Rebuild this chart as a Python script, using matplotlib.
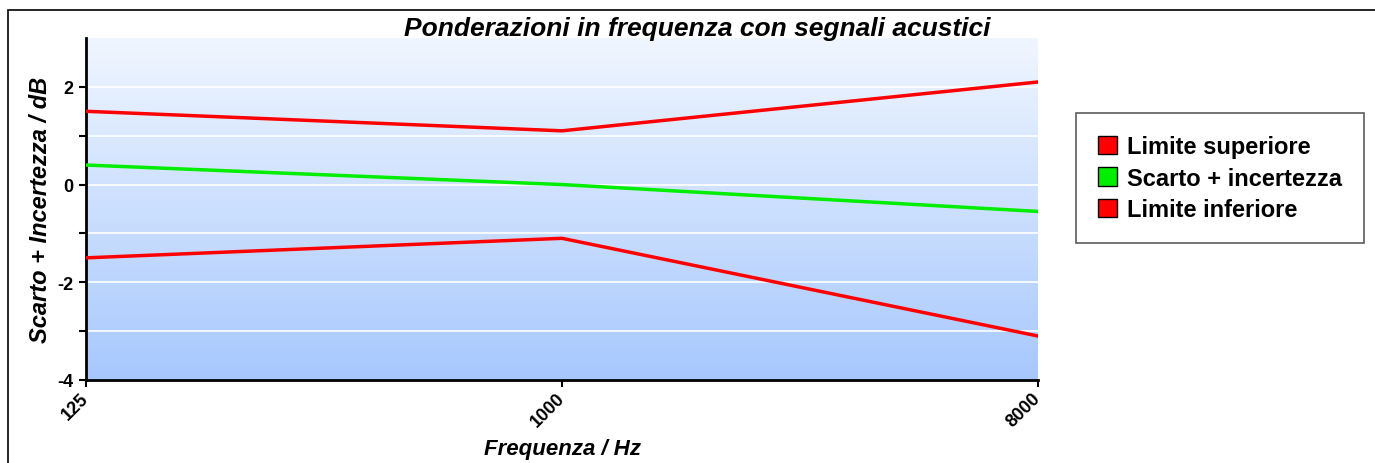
import numpy as np
import matplotlib
matplotlib.use('Agg')
import matplotlib.pyplot as plt
from matplotlib.patches import Rectangle
from matplotlib.colors import LinearSegmentedColormap

plt.rcParams['font.family'] = ['Liberation Sans', 'DejaVu Sans']
plt.rcParams['axes.unicode_minus'] = False

# frequency bands and the three curves (dB)
frequenze = ['125', '1000', '8000']
limite_superiore = [1.5, 1.1, 2.1]
scarto_incertezza = [0.4, 0.0, -0.55]
limite_inferiore = [-1.5, -1.1, -3.1]

W, H = 1375, 464
fig = plt.figure(figsize=(W / 100, H / 100), dpi=100)
ax = fig.add_axes([86 / W, 1 - 381 / H, (1038 - 86) / W, (381 - 39) / H])

x = np.arange(len(frequenze))
ax.set_xlim(0, len(frequenze) - 1)
ax.set_ylim(-4, 3)

# vertical gradient background
cmap = LinearSegmentedColormap.from_list('bg', ['#a7c8fd', '#f0f6ff'])
grad = np.linspace(0, 1, 256).reshape(-1, 1)
ax.imshow(grad, cmap=cmap, aspect='auto', origin='lower',
          extent=[0, len(frequenze) - 1, -4, 3], zorder=0)

for yv in range(-3, 3):
    ax.axhline(yv, color='white', lw=1.2, zorder=1)

ax.plot(x, limite_superiore, color='#ff0000', lw=2.5, zorder=3, label='Limite superiore')
ax.plot(x, scarto_incertezza, color='#00ee00', lw=2.5, zorder=3, label='Scarto + incertezza')
ax.plot(x, limite_inferiore, color='#ff0000', lw=2.5, zorder=3, label='Limite inferiore')

ax.set_xticks(x)
ax.set_xticklabels(frequenze, rotation=45, ha='right', va='center', rotation_mode='anchor',
                   fontsize=13, fontweight='bold')
ax.set_yticks([-4, -2, 0, 2])
ax.set_yticks([-3, -1, 1], minor=True)
ax.tick_params(axis='y', which='both', direction='out', length=5, width=1.5, pad=4)
ax.tick_params(axis='y', labelsize=13)
ax.tick_params(axis='x', direction='out', length=5, width=1.5, pad=6)
for lab in ax.get_yticklabels():
    lab.set_fontweight('bold')

for s in ['top', 'right']:
    ax.spines[s].set_visible(False)
for s in ['left', 'bottom']:
    ax.spines[s].set_linewidth(2)

ax.set_xlabel('Frequenza / Hz', fontsize=16, fontweight='bold', style='italic')
ax.xaxis.set_label_coords(0.5, -(450 - 381) / (381 - 39))
ax.set_ylabel('Scarto + Incertezza / dB', fontsize=17, fontweight='bold', style='italic')
ax.yaxis.set_label_coords(-(86 - 41) / (1038 - 86), (381 - 210) / (381 - 39))
ax.xaxis.label.set_va('center')
ax.yaxis.label.set_va('center')
fig.text(697 / W, 1 - 29 / H, 'Ponderazioni in frequenza con segnali acustici',
         ha='center', va='center', fontsize=19, fontweight='bold', style='italic')

# legend with square swatches
handles = [Rectangle((0, 0), 1, 1, fc=c, ec='black', lw=1)
           for c in ['#ff0000', '#00ee00', '#ff0000']]
leg = fig.legend(handles, ['Limite superiore', 'Scarto + incertezza', 'Limite inferiore'],
                 loc='upper left', bbox_to_anchor=(1076 / W, 1 - 114 / H),
                 prop={'weight': 'bold', 'size': 17}, frameon=True, fancybox=False,
                 edgecolor='#333333', handlelength=0.8, handleheight=0.8,
                 handletextpad=0.4, borderpad=0.95, labelspacing=0.35, borderaxespad=0)
leg.get_frame().set_linewidth(1.2)

# outer frame
fig.patches.append(Rectangle((8 / W, -0.1), 1.2, 1.1 - 10.5 / H, transform=fig.transFigure,
                             fill=False, ec='black', lw=1.2, zorder=0))

fig.savefig('out.png', dpi=100)
